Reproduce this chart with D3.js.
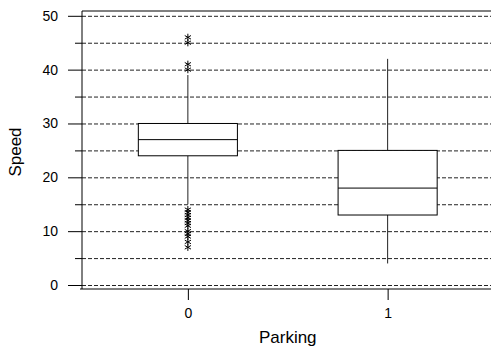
<!DOCTYPE html>
<html>
<head>
<meta charset="utf-8">
<script src="https://cdn.jsdelivr.net/npm/d3@7"></script>
<style>
  body { margin: 0; background: #fff; }
  svg { display: block; font-family: "Liberation Sans", Arial, sans-serif; }
  .grid line { stroke: #222; stroke-dasharray: 4 2; }
  .grid .domain { display: none; }
  .axis .domain { display: none; }
  .axis line { stroke: #000; }
  .axis text { font-size: 14px; fill: #000; }
</style>
</head>
<body>
<div id="chart"></div>
<script>
// data
const categories = ["0", "1"];
const q1 = [24, 13];
const median = [27, 18];
const q3 = [30, 25];
const whiskerLow = [15, 4];
const whiskerHigh = [39, 42];
const outliers0 = [46, 45, 41, 40, 14, 13.5, 13, 12.5, 12, 11.5, 11, 10, 9.5, 9, 8, 7];
const outliers1 = [];
const yTicks = [0, 10, 20, 30, 40, 50];
const yMinor = [5, 15, 25, 35, 45];

const width = 491, height = 347;
const plotLeft = 82, plotRight = 493.5, plotTop = 11, plotBottom = 289;

let svg = d3
  .select("#chart")
  .append("svg")
  .attr("width", width)
  .attr("height", height);

let xScale = d3
  .scalePoint()
  .domain(categories)
  .range([plotLeft, plotRight])
  .padding(0.53);

let yScale = d3
  .scaleLinear()
  .domain([0, 50])
  .range([285, 15.8]);

let boxW = xScale.step() * 0.496;

// dashed gridlines
svg
  .append("g")
  .attr("class", "grid")
  .attr("transform", "translate(" + plotLeft + ",0)")
  .call(
    d3.axisLeft(yScale)
      .tickValues(d3.merge([yTicks, yMinor]))
      .tickSize(-(width - plotLeft))
      .tickFormat("")
  );

// frame
svg.append("path")
  .attr("d", "M" + plotLeft + "," + plotBottom + "V" + plotTop + "H" + width)
  .attr("fill", "none")
  .attr("stroke", "#000");
svg.append("line")
  .attr("x1", plotLeft - 2).attr("x2", width)
  .attr("y1", plotBottom).attr("y2", plotBottom)
  .attr("stroke", "#000");

// y axis
svg
  .append("g")
  .attr("class", "axis")
  .attr("transform", "translate(" + plotLeft + ",0)")
  .call(d3.axisLeft(yScale).tickValues(yTicks).tickSize(14).tickPadding(10));

svg
  .append("g")
  .attr("class", "axis")
  .attr("transform", "translate(" + plotLeft + ",0)")
  .call(d3.axisLeft(yScale).tickValues(yMinor).tickSize(7).tickFormat(""));

// x axis
svg
  .append("g")
  .attr("class", "axis")
  .attr("transform", "translate(0," + plotBottom + ")")
  .call(d3.axisBottom(xScale).tickSize(11).tickPadding(8));

// boxes
let boxes = svg.selectAll(".box")
  .data(categories)
  .enter()
  .append("g")
  .attr("class", "box");

boxes.append("line")
  .attr("x1", d => xScale(d)).attr("x2", d => xScale(d))
  .attr("y1", (d, i) => yScale(q3[i])).attr("y2", (d, i) => yScale(whiskerHigh[i]))
  .attr("stroke", "#222");

boxes.append("line")
  .attr("x1", d => xScale(d)).attr("x2", d => xScale(d))
  .attr("y1", (d, i) => yScale(q1[i])).attr("y2", (d, i) => yScale(whiskerLow[i]))
  .attr("stroke", "#222");

boxes.append("rect")
  .attr("x", d => xScale(d) - boxW / 2)
  .attr("width", boxW)
  .attr("y", (d, i) => yScale(q3[i]))
  .attr("height", (d, i) => yScale(q1[i]) - yScale(q3[i]))
  .attr("fill", "#fff")
  .attr("stroke", "#000");

boxes.append("line")
  .attr("x1", d => xScale(d) - boxW / 2).attr("x2", d => xScale(d) + boxW / 2)
  .attr("y1", (d, i) => yScale(median[i])).attr("y2", (d, i) => yScale(median[i]))
  .attr("stroke", "#000");

// outliers as asterisks
let star = d3.symbol(d3.symbolAsterisk, 36);
let pts = [];
outliers0.forEach(v => pts.push([categories[0], v]));
outliers1.forEach(v => pts.push([categories[1], v]));

svg.selectAll(".outlier")
  .data(pts)
  .enter()
  .append("path")
  .attr("class", "outlier")
  .attr("d", star)
  .attr("transform", d => "translate(" + xScale(d[0]) + "," + yScale(d[1]) + ")")
  .attr("fill", "none")
  .attr("stroke", "#000")
  .attr("stroke-width", 1);

// axis titles
svg.append("text")
  .text("Speed")
  .attr("transform", "translate(20.5," + 152 + ") rotate(-90)")
  .attr("text-anchor", "middle")
  .attr("font-size", 17);

svg.append("text")
  .text("Parking")
  .attr("x", (plotLeft + plotRight) / 2)
  .attr("y", 342.5)
  .attr("text-anchor", "middle")
  .attr("font-size", 17);
</script>
</body>
</html>
